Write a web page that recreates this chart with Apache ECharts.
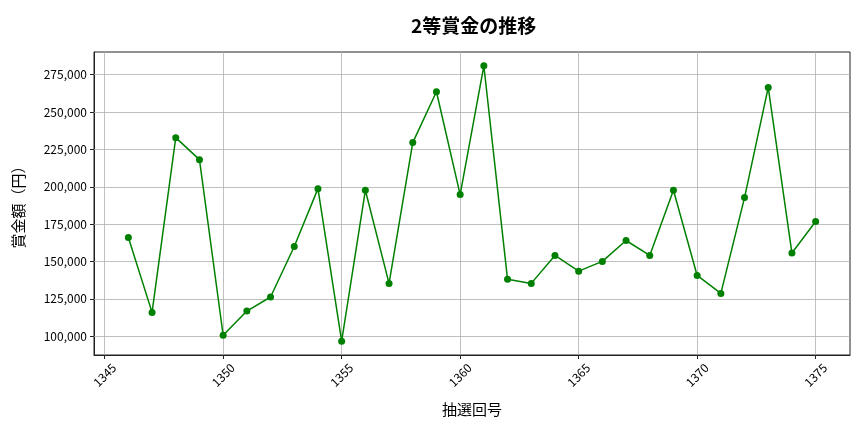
<!DOCTYPE html>
<html><head><meta charset="utf-8">
<script src="https://cdn.jsdelivr.net/npm/echarts@6/dist/echarts.min.js"></script>
<style>html,body{margin:0;padding:0;background:#fff}#c{width:864px;height:432px}</style>
</head><body><div id="c"></div>
<script>
const draws = [1346,1347,1348,1349,1350,1351,1352,1353,1354,1355,1356,1357,1358,1359,1360,1361,1362,1363,1364,1365,1366,1367,1368,1369,1370,1371,1372,1373,1374,1375];
const prizes = [166100,116000,232900,218200,100700,116900,126300,160100,198800,96700,197700,135400,229600,263600,194800,281000,138100,135400,154100,143600,150100,164100,154100,197700,140700,128700,192800,266500,155700,176800];
const xTicks = [1345,1350,1355,1360,1365,1370,1375];
const yTicks = [100000,125000,150000,175000,200000,225000,250000,275000];
const FONT = '"Noto Sans CJK JP", "Noto Sans", sans-serif';
const chart = echarts.init(document.getElementById('c'), null, {renderer:'canvas'});
chart.setOption({
  animation:false,
  title:{text:'2等賞金の推移', left:406, top:11,
    textStyle:{fontFamily:FONT, fontSize:19, fontWeight:'bold', color:'#000'}},
  grid:{left:94, right:14, top:52, bottom:77, show:true, borderColor:'#222', borderWidth:1, backgroundColor:'transparent'},
  xAxis:{type:'value', min:1344.55, max:1376.45,
    name:'抽選回号', nameLocation:'middle', nameGap:47,
    nameTextStyle:{fontFamily:FONT, fontSize:15, color:'#000'},
    axisLine:{show:true, onZero:false, lineStyle:{color:'#222'}},
    axisTick:{show:true, customValues:xTicks, length:4, lineStyle:{color:'#222'}},
    axisLabel:{customValues:xTicks, rotate:45, align:'center', verticalAlign:'middle', margin:20,
      fontFamily:FONT, fontSize:12, color:'#000', formatter:v=>String(v)},
    splitLine:{show:false}},
  yAxis:{type:'value', min:87485, max:290215,
    name:'賞金額（円）', nameLocation:'middle', nameGap:68, nameRotate:90,
    nameTextStyle:{fontFamily:FONT, fontSize:15, color:'#000'},
    axisLine:{show:true, onZero:false, lineStyle:{color:'#222'}},
    axisTick:{show:true, customValues:yTicks, length:4, lineStyle:{color:'#222'}},
    axisLabel:{customValues:yTicks, margin:7, fontFamily:FONT, fontSize:12, color:'#000',
      formatter:v=>v.toLocaleString('en-US')},
    splitLine:{show:false}},
  series:[
    {type:'line', data:[], silent:true,
      markLine:{silent:true, symbol:'none', label:{show:false}, lineStyle:{color:'#b0b0b0', width:0.8, type:'solid'},
        data: xTicks.map(v=>({xAxis:v})).concat(yTicks.map(v=>({yAxis:v})))}},
    {type:'line', data:draws.map((d,i)=>[d,prizes[i]]), color:'#008000',
      lineStyle:{color:'#008000', width:1.5}, symbol:'circle', symbolSize:7, showSymbol:true,
      itemStyle:{color:'#008000'}, z:5}
  ]
});
</script></body></html>
